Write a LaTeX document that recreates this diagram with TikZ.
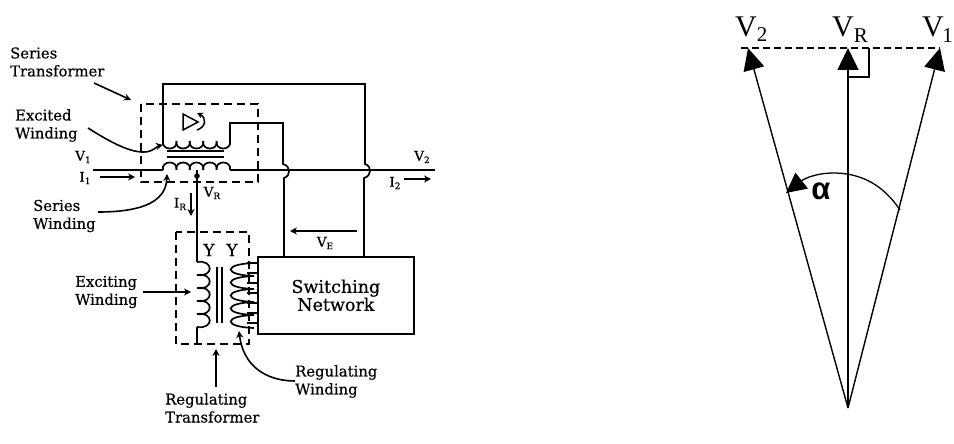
\documentclass[tikz,border=0pt]{standalone}
\usepackage{fontspec}
\setmainfont[FakeBold=0.5]{DejaVu Serif}
\newfontfamily\timesf{Liberation Serif}
\newfontfamily\arialf{Liberation Sans}
\usetikzlibrary{arrows.meta}
\tikzset{
  wire/.style={line width=1.7pt},
  dashbox/.style={line width=1.8pt,dash pattern=on 8pt off 5pt},
  lead/.style={line width=1.6pt,-{Stealth[length=7pt,width=7pt]}},
  lab/.style={font=\fontsize{14.8}{18}\selectfont,inner sep=0pt,align=left},
  sym/.style={font=\fontsize{13.5}{14}\selectfont,inner sep=0pt},
  big/.style={font=\timesf\fontsize{30}{30}\selectfont,inner sep=0pt},
  phasor/.style={line width=1.4pt,-{Triangle[length=22pt,width=21pt]}}
}
\newcommand{\coilH}[5]{% x0,y,n,w,h
  \foreach \i in {1,...,#3}{
    \draw[wire] ({#1+(\i-1)*#4},#2) .. controls ({#1+(\i-1)*#4-0.15*#4},{#2+#5}) and ({#1+\i*#4+0.15*#4},{#2+#5}) .. ({#1+\i*#4},#2);
  }}
\newcommand{\coilV}[5]{% x,y0,n,w,h
  \foreach \i in {1,...,#3}{
    \draw[wire] (#1,{#2+(\i-1)*#4}) .. controls ({#1+#5},{#2+(\i-1)*#4-0.2*#4}) and ({#1+#5},{#2+\i*#4+0.2*#4}) .. (#1,{#2+\i*#4});
  }}
\newcommand{\subs}[1]{\raisebox{-2.5pt}{\fontsize{9}{9}\selectfont #1}}
\begin{document}
\begin{tikzpicture}[x=1pt,y=-1pt]
\useasboundingbox (0,0) rectangle (954,444);
% named points
\coordinate (lineL) at (93,170);
\coordinate (coilL) at (163,170);
\coordinate (coilR) at (230,170);
\coordinate (lineR) at (435,170);
\coordinate (secL) at (163,141);
\coordinate (secR) at (230,141);
\coordinate (topL) at (163,84);
\coordinate (topR) at (365,84);
\coordinate (jR1) at (365,164);
\coordinate (jR2) at (364,178);
\coordinate (swR) at (364,256);
\coordinate (upL) at (230,123);
\coordinate (upR) at (283,123);
\coordinate (jL1) at (283,164);
\coordinate (jL2) at (284,178);
\coordinate (swL) at (284,256);
\coordinate (tap) at (197,170);
\coordinate (excT) at (197,262);
\coordinate (excB) at (197,327);
\coordinate (excE) at (197,344);
% boxes
\node[draw,line width=1.7pt,minimum width=156pt,minimum height=77pt,inner sep=0pt,anchor=north west,font=\fontsize{17.5}{18}\selectfont,align=center] (sw) at (257,256) {Switching\\Network};
\draw[dashbox] (141,104) rectangle (258,182);
\draw[dashbox] (176,232) rectangle (249,344);
% series transformer
\draw[wire] (lineL) -- (coilL);
\coilH{163}{170}{5}{13.4}{-10}
\draw[wire] (coilR) -- (lineR);
\coilH{163}{141}{5}{13.4}{10}
\draw[wire] (secL) -- (topL) -- (topR) -- (jR1) .. controls (372,166) and (372,176) .. (jR2) -- (swR);
\draw[wire] (secR) -- (upL) -- (upR) -- (jL1) .. controls (291,166) and (291,176) .. (jL2) -- (swL);
\draw[line width=1.4pt] (167,151) -- (224,151) (167,157) -- (224,157);
% switch symbol
\draw[line width=1.5pt] (183,114) -- (183,130) -- (198,122) -- cycle;
\draw[line width=1.5pt,-{Stealth[length=6pt,width=6pt]}] (197,130) .. controls (206,127) and (207,118) .. (197,113);
% tap + exciting
\fill (tap |- 0,176) circle (2.8pt);
\draw[wire] (tap) -- (excT);
\coilV{197}{262}{5}{13}{17}
\draw[wire] (excB) -- (excE);
\draw[line width=1.4pt] (217,267) -- (217,323) (222,267) -- (222,323);
% regulating
\foreach \yy in {263,273,283,293,303,313,323}{\draw[line width=1.4pt] (247,\yy) -- (257,\yy);}
\foreach \yy in {263,276,289,302,315}{
  \draw[wire] (254,\yy) .. controls (223,{\yy+1}) and (223,{\yy+12}) .. (254,{\yy+13});
}
\node[inner sep=0pt,font=\fontsize{17}{17}\selectfont] (y1) at (209,250) {Y};
\node[inner sep=0pt,font=\fontsize{17}{17}\selectfont] (y2) at (232,250) {Y};
% labels
\node[lab,anchor=west] (st) at (10,62) {Series\\Transformer};
\coordinate (stA) at (94,83); \coordinate (stB) at (131,100);
\draw[lead] (stA) -- (stB);
\node[lab,anchor=west] (ew) at (15,125.5) {Excited\\Winding};
\coordinate (ewA) at (88,128); \coordinate (ewB) at (163,145);
\draw[lead] (ewA) .. controls (110,142) and (135,156) .. (150,151) .. controls (155,149) and (158,146) .. (ewB);
\node[lab,anchor=west] (sew) at (33,216) {Series\\Winding};
\coordinate (swA) at (98,212); \coordinate (swB) at (167,174);
\draw[lead] (swA) .. controls (135,212) and (166,205) .. (swB);
\node[lab,anchor=west] (exw) at (75,292) {Exciting\\Winding};
\coordinate (exA) at (143,292); \coordinate (exB) at (191,292);
\draw[lead] (exA) -- (exB);
\node[lab,anchor=west] (rt) at (165,408) {Regulating\\Transformer};
\coordinate (rtA) at (216,387); \coordinate (rtB) at (216,349);
\draw[lead] (rtA) -- (rtB);
\node[lab,anchor=west] (rw) at (295,381.5) {Regulating\\Winding};
\coordinate (rwA) at (295,381); \coordinate (rwB) at (239,331);
\draw[lead] (rwA) .. controls (265,381) and (243,365) .. (rwB);
% V,I labels
\node[sym] (v1) at (83,157) {V\subs{1}};
\node[sym] (i1) at (85,178) {I\subs{1}};
\coordinate (i1A) at (100,177); \coordinate (i1B) at (135,177);
\draw[lead] (i1A) -- (i1B);
\node[sym] (vr) at (212,193) {V\subs{R}};
\node[sym] (ir) at (180,204) {I\subs{R}};
\coordinate (irA) at (191,193); \coordinate (irB) at (191,216);
\draw[lead] (irA) -- (irB);
\node[sym] (v2) at (422,157) {V\subs{2}};
\node[sym] (i2) at (395,183) {I\subs{2}};
\coordinate (i2A) at (404,179); \coordinate (i2B) at (431,179);
\draw[lead] (i2A) -- (i2B);
\node[sym] (ve) at (325,243) {V\subs{E}};
\coordinate (veA) at (357,231); \coordinate (veB) at (290,231);
\draw[lead] (veA) -- (veB);
% phasor diagram
\coordinate (apex) at (848,408);
\coordinate (p2) at (748,48);
\coordinate (pr) at (848,48);
\coordinate (p1) at (940,48);
\draw[line width=1.2pt,dash pattern=on 7pt off 4pt] (741,48) -- (940,48);
\draw[phasor] (apex) -- (p2);
\draw[phasor] (apex) -- (pr);
\draw[phasor] (apex) -- (p1);
\draw[line width=1.3pt] (848,77) -- (869,77) -- (869,48);
\draw[line width=1.3pt,-{Triangle[length=20pt,width=20pt]}] (900,210) .. controls (880,180) and (855,173) .. (833,173) .. controls (818,173) and (805,178) .. (786,193);
\node[big,anchor=base west] (lv2) at (735,37) {V\raisebox{-5pt}{\fontsize{21}{21}\selectfont 2}};
\node[big,anchor=base west] (lvr) at (832,37) {V\raisebox{-6pt}{\fontsize{21}{21}\selectfont R}};
\node[big,anchor=base west] (lv1) at (922,37) {V\kern-1.5pt\raisebox{-6pt}{\fontsize{21}{21}\selectfont 1}};
\node[inner sep=0pt,font=\arialf\bfseries\fontsize{31}{31}\selectfont] (al) at (821,191) {α};
\end{tikzpicture}
\end{document}
